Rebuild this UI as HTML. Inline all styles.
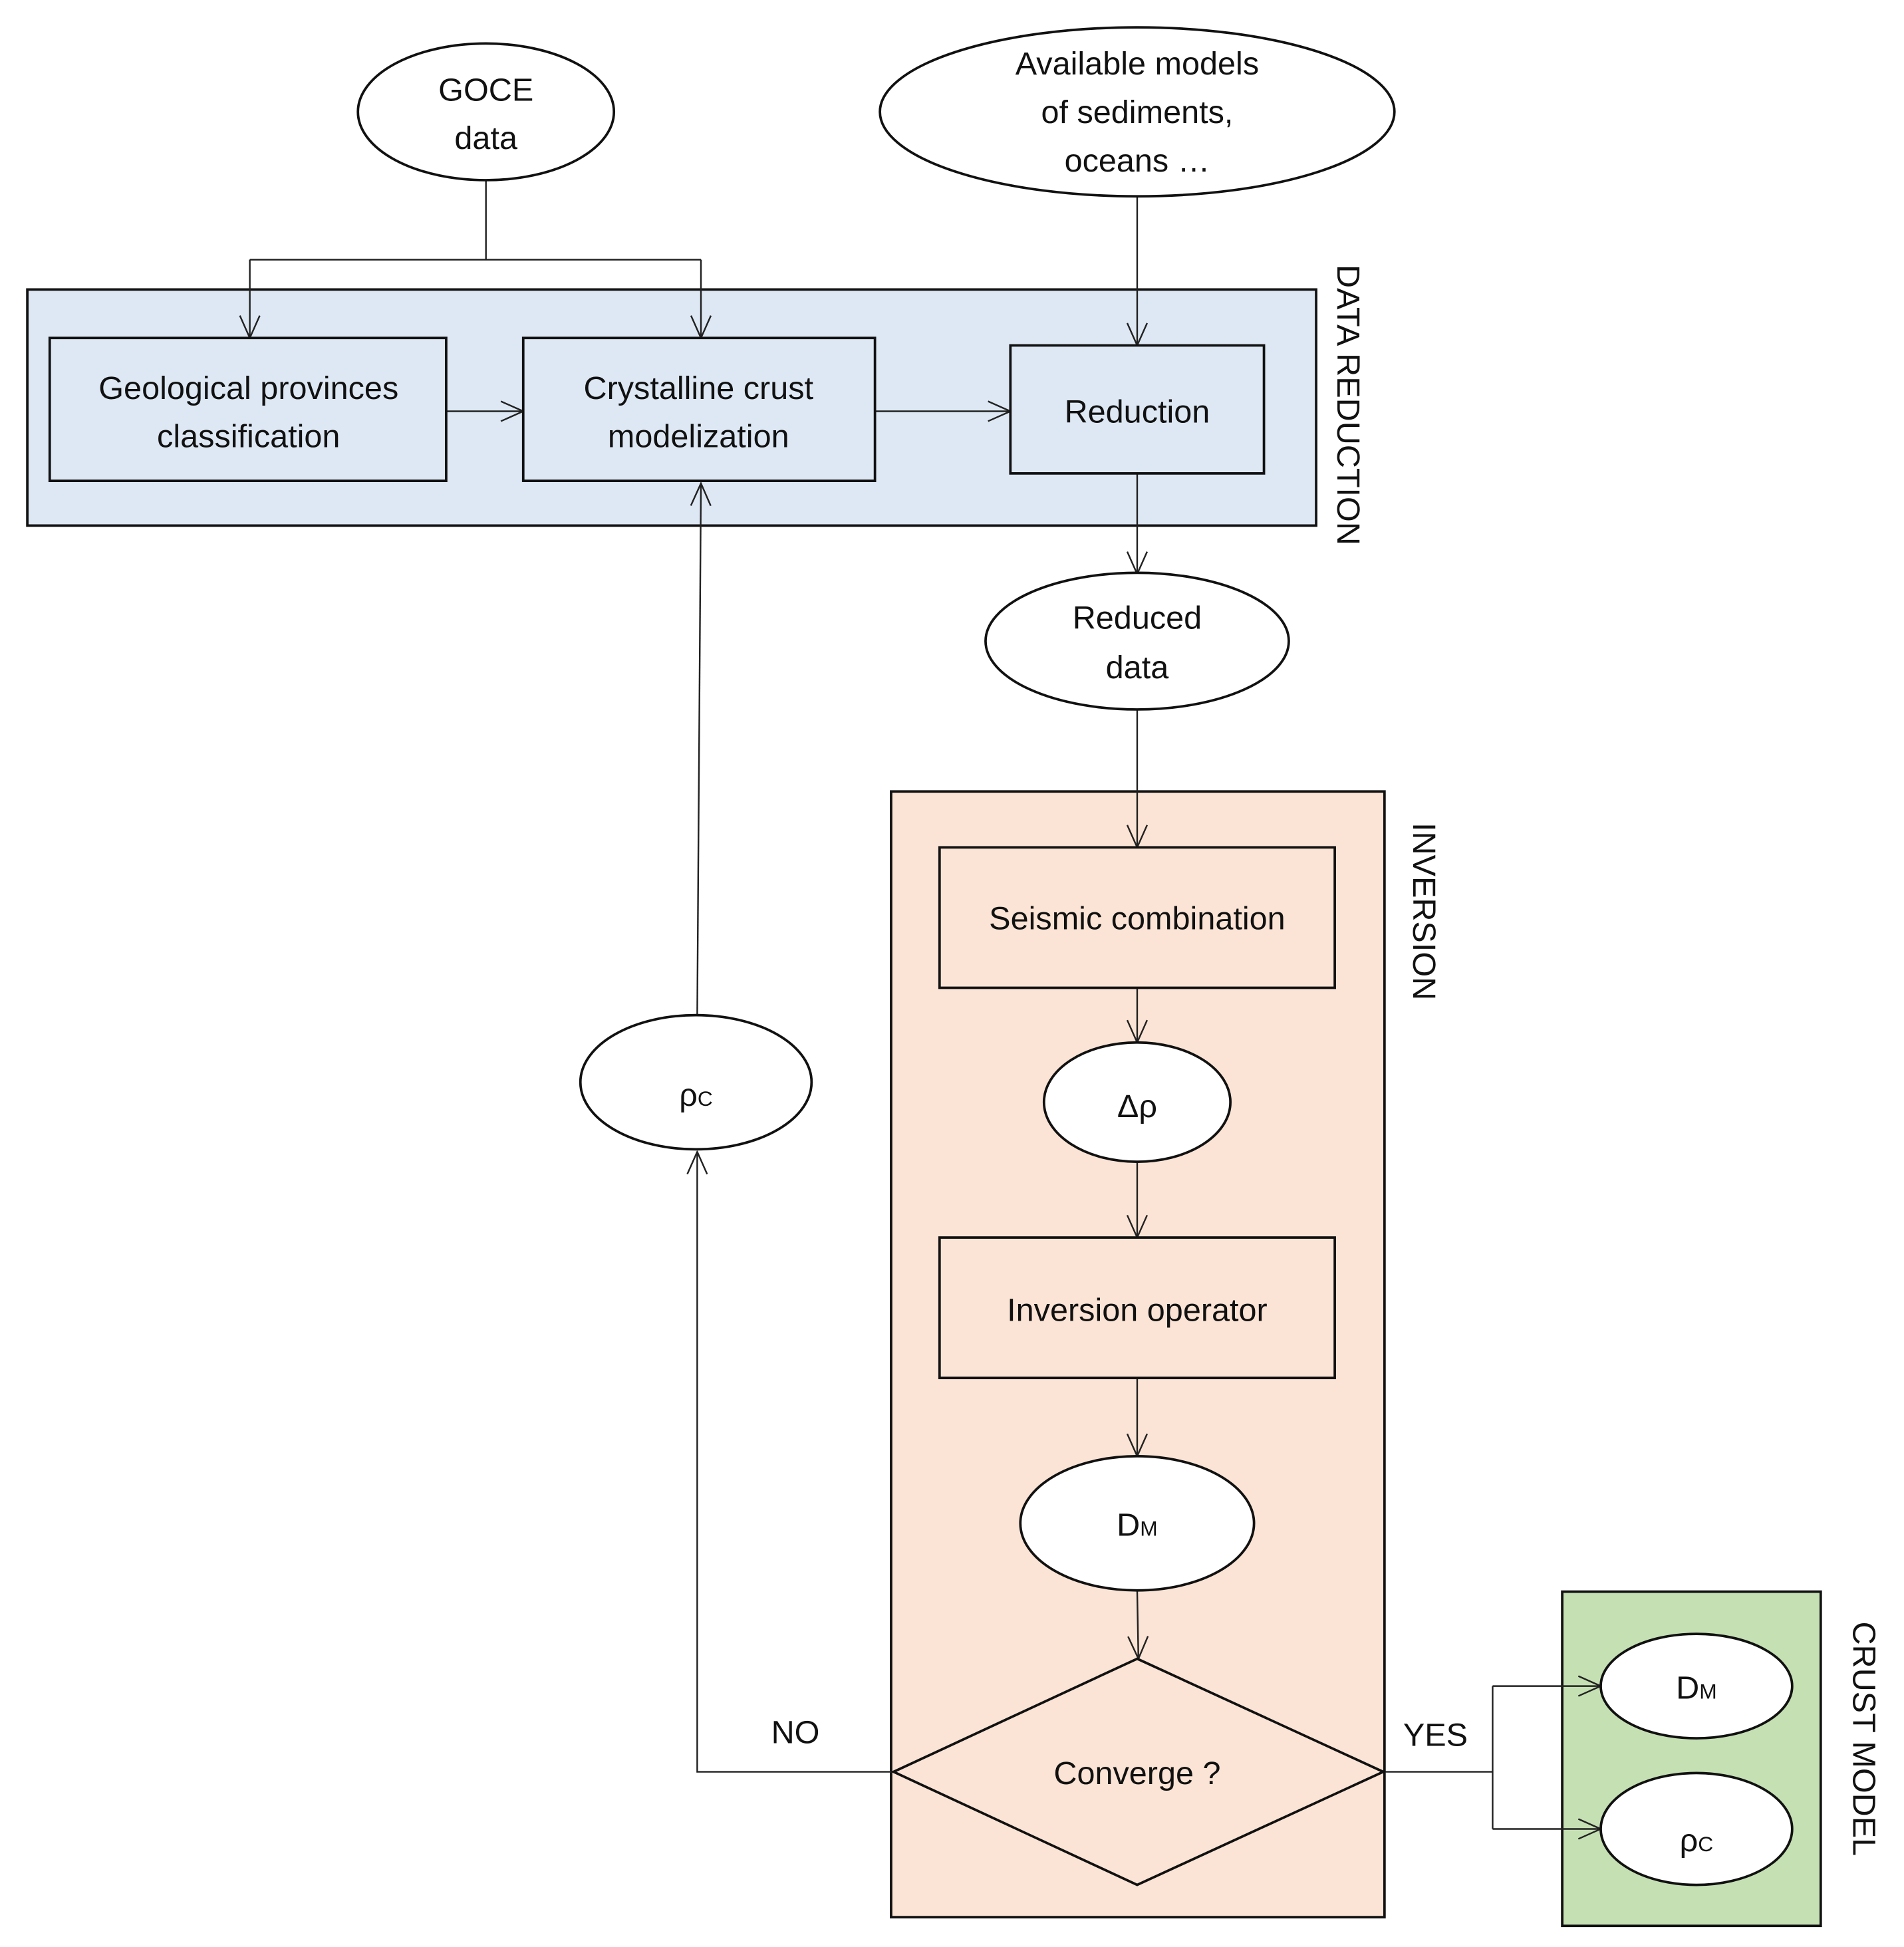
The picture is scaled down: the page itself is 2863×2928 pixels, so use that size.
<!DOCTYPE html>
<html><head><meta charset="utf-8"><style>
html,body{margin:0;padding:0;background:#fff;}
svg{display:block;}
text{font-family:"Liberation Sans",sans-serif;font-size:26px;fill:#111;}
</style></head><body>
<svg width="2863" height="2928" viewBox="0 0 1532 1567" preserveAspectRatio="none" xmlns="http://www.w3.org/2000/svg">
<defs>
<marker id="a" viewBox="0 0 20 20" refX="19" refY="10" markerWidth="20" markerHeight="20" markerUnits="userSpaceOnUse" orient="auto">
<path d="M1,2 L19,10 L1,18" fill="none" stroke="#222" stroke-width="1.3"/>
</marker>
</defs>
<rect width="1532" height="1567" fill="#fff"/>
<rect x="22" y="233" width="1037" height="190" fill="#dde8f4" stroke="#111" stroke-width="2"/>
<rect x="717" y="637" width="397" height="906" fill="#fbe4d5" stroke="#111" stroke-width="2"/>
<rect x="1257" y="1281" width="208" height="269" fill="#c5e0b3" stroke="#111" stroke-width="2"/>
<g fill="none" stroke="#222" stroke-width="1.3">
<line x1="391" y1="145" x2="391" y2="209"/>
<line x1="201" y1="209" x2="564" y2="209"/>
<line x1="201" y1="209" x2="201" y2="272" marker-end="url(#a)"/>
<line x1="564" y1="209" x2="564" y2="272" marker-end="url(#a)"/>
<line x1="915" y1="158" x2="915" y2="278" marker-end="url(#a)"/>
<line x1="359" y1="331" x2="421" y2="331" marker-end="url(#a)"/>
<line x1="704" y1="331" x2="813" y2="331" marker-end="url(#a)"/>
<line x1="915" y1="381" x2="915" y2="462" marker-end="url(#a)"/>
<line x1="915" y1="571" x2="915" y2="682" marker-end="url(#a)"/>
<line x1="915" y1="795" x2="915" y2="839" marker-end="url(#a)"/>
<line x1="915" y1="935" x2="915" y2="996" marker-end="url(#a)"/>
<line x1="915" y1="1109" x2="915" y2="1172" marker-end="url(#a)"/>
<line x1="915" y1="1280" x2="916" y2="1335" marker-end="url(#a)"/>
<polyline points="719,1426 561,1426 561,927" marker-end="url(#a)"/>
<line x1="561" y1="817" x2="564" y2="389" marker-end="url(#a)"/>
<line x1="1113" y1="1426" x2="1201" y2="1426"/>
<line x1="1201" y1="1357" x2="1201" y2="1472"/>
<line x1="1201" y1="1357" x2="1288" y2="1357" marker-end="url(#a)"/>
<line x1="1201" y1="1472" x2="1288" y2="1472" marker-end="url(#a)"/>
</g>
<g stroke="#111" stroke-width="2">
<ellipse cx="391" cy="90" rx="103" ry="55" fill="#fff"/>
<ellipse cx="915" cy="90" rx="207" ry="68" fill="#fff"/>
<rect x="40" y="272" width="319" height="115" fill="#dde8f4"/>
<rect x="421" y="272" width="283" height="115" fill="#dde8f4"/>
<rect x="813" y="278" width="204" height="103" fill="#dde8f4"/>
<ellipse cx="915" cy="516" rx="122" ry="55" fill="#fff"/>
<rect x="756" y="682" width="318" height="113" fill="#fbe4d5"/>
<ellipse cx="915" cy="887" rx="75" ry="48" fill="#fff"/>
<rect x="756" y="996" width="318" height="113" fill="#fbe4d5"/>
<ellipse cx="915" cy="1226" rx="94" ry="54" fill="#fff"/>
<polygon points="915,1335 1113,1426 915,1517 719,1426" fill="#fbe4d5"/>
<ellipse cx="560" cy="871" rx="93" ry="54" fill="#fff"/>
<ellipse cx="1365" cy="1357" rx="77" ry="42" fill="#fff"/>
<ellipse cx="1365" cy="1472" rx="77" ry="45" fill="#fff"/>
</g>
<g text-anchor="middle">
<text x="391" y="81">GOCE</text>
<text x="391" y="120">data</text>
<text x="915" y="60">Available models</text>
<text x="915" y="99">of sediments,</text>
<text x="915" y="138">oceans …</text>
<text x="200" y="321">Geological provinces</text>
<text x="200" y="360">classification</text>
<text x="562" y="321">Crystalline crust</text>
<text x="562" y="360">modelization</text>
<text x="915" y="340">Reduction</text>
<text x="915" y="506">Reduced</text>
<text x="915" y="546">data</text>
<text x="915" y="748">Seismic combination</text>
<text x="915" y="899">Δρ</text>
<text x="915" y="1063">Inversion operator</text>
<text x="915" y="1236">D<tspan font-size="17">M</tspan></text>
<text x="915" y="1436">Converge ?</text>
<text x="560" y="890">ρ<tspan font-size="17">C</tspan></text>
<text x="1365" y="1367">D<tspan font-size="17">M</tspan></text>
<text x="1365" y="1490">ρ<tspan font-size="17">C</tspan></text>
<text x="640" y="1403">NO</text>
<text x="1155" y="1405">YES</text>
</g>
<text transform="translate(1076,213) rotate(90)">DATA REDUCTION</text>
<text transform="translate(1137,662) rotate(90)">INVERSION</text>
<text transform="translate(1491,1305) rotate(90)">CRUST MODEL</text>
</svg>
</body></html>
